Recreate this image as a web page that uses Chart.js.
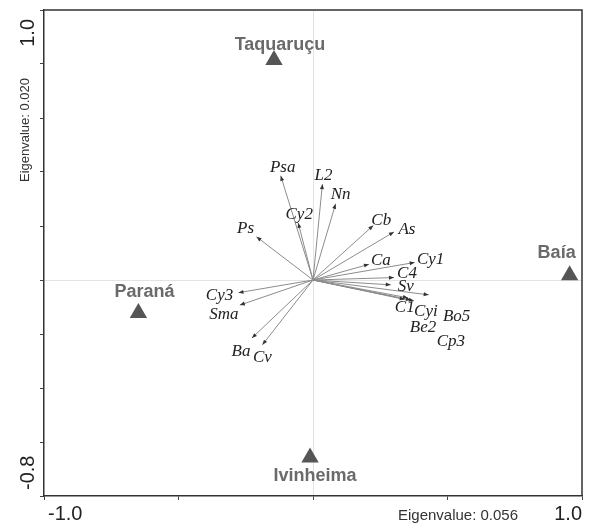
<!DOCTYPE html>
<html>
<head>
<meta charset="utf-8">
<script src="https://cdn.jsdelivr.net/npm/chart.js@4.4.1/dist/chart.umd.min.js"></script>
<style>
  html, body { margin: 0; padding: 0; background: #fff; }
</style>
</head>
<body>
<canvas id="grafico" width="592" height="529"></canvas>
<script>
// Sítios (triângulos)
const sitios = ['Taquaruçu', 'Baía', 'Paraná', 'Ivinheima'];
const sitiosX = [-0.145, 0.954, -0.649, -0.011];
const sitiosY = [0.815, 0.018, -0.122, -0.657];

// Espécies (vetores)
const especies = ['Psa', 'L2', 'Nn', 'Cy2', 'Ps', 'Cb', 'As', 'Ca', 'Cy1', 'C4',
                  'Sv', 'C1', 'Cyi', 'Bo5', 'Be2', 'Cp3', 'Cy3', 'Sma', 'Ba', 'Cv'];
const especiesX = [-0.120, 0.035, 0.084, -0.055, -0.210, 0.224, 0.301, 0.208, 0.378, 0.301,
                   0.289, 0.341, 0.364, 0.430, 0.353, 0.375, -0.277, -0.272, -0.227, -0.188];
const especiesY = [0.386, 0.355, 0.282, 0.211, 0.160, 0.202, 0.178, 0.058, 0.065, 0.009,
                   -0.018, -0.072, -0.074, -0.055, -0.066, -0.077, -0.047, -0.093, -0.215, -0.240];

// Rótulos dos eixos
const xTickLabels = { '-1': '-1.0', '1': '1.0' };
const yTickLabels = { '1': '1.0', '-0.8': '-0.8' };
const tituloX = 'Eigenvalue: 0.056';
const tituloY = 'Eigenvalue: 0.020';

// Deslocamento dos rótulos (px) em relação à ponta do vetor
const deslocEspecies = [[2,-8],[1,-9],[5,-9],[1,-8],[-11,-8],[8,-5],[13,-2],[12,-4],[16,-3],[13,-4],
                        [15,2],[0,8],[15,12],[28,22],[15,30],[37,41],[-19,3],[-16,9],[-11,13],[0,13]];
const deslocSitios = [[6,-15],[-13,-22],[6,-21],[5,19]];

const datasets = [{
  label: 'Sítios',
  data: sitios.map((s, i) => ({ x: sitiosX[i], y: sitiosY[i] })),
  pointStyle: 'triangle',
  radius: 10,
  backgroundColor: '#555',
  borderColor: '#555',
  borderWidth: 0,
  order: 0
}];

especies.forEach((e, i) => {
  datasets.push({
    label: e,
    data: [{ x: 0, y: 0 }, { x: especiesX[i], y: especiesY[i] }],
    showLine: true,
    borderColor: '#8c8c8c',
    borderWidth: 1,
    pointRadius: 0,
    order: 1
  });
});

const corZero = ctx => (ctx.tick && Math.abs(ctx.tick.value) < 1e-9) ? '#e3e3e3' : 'rgba(0,0,0,0)';

const desenhoExtra = {
  id: 'desenhoExtra',
  afterDatasetsDraw(chart) {
    const { ctx, chartArea: a, scales: { x, y } } = chart;
    const x0 = x.getPixelForValue(0), y0 = y.getPixelForValue(0);
    ctx.save();

    // moldura superior e direita
    ctx.strokeStyle = '#333';
    ctx.lineWidth = 1.5;
    ctx.beginPath();
    ctx.moveTo(a.left, a.top);
    ctx.lineTo(a.right, a.top);
    ctx.lineTo(a.right, a.bottom);
    ctx.stroke();

    // pontas das setas
    ctx.fillStyle = '#333';
    especies.forEach((e, i) => {
      const px = x.getPixelForValue(especiesX[i]);
      const py = y.getPixelForValue(especiesY[i]);
      const ang = Math.atan2(py - y0, px - x0);
      ctx.save();
      ctx.translate(px, py);
      ctx.rotate(ang);
      ctx.beginPath();
      ctx.moveTo(0, 0);
      ctx.lineTo(-5, -2);
      ctx.lineTo(-5, 2);
      ctx.closePath();
      ctx.fill();
      ctx.restore();
    });

    // rótulos das espécies
    ctx.font = 'italic 17px "Liberation Serif", "Times New Roman", serif';
    ctx.fillStyle = '#222';
    ctx.textAlign = 'center';
    ctx.textBaseline = 'middle';
    especies.forEach((e, i) => {
      const px = x.getPixelForValue(especiesX[i]) + deslocEspecies[i][0];
      const py = y.getPixelForValue(especiesY[i]) + deslocEspecies[i][1];
      ctx.fillText(e, px, py);
    });

    // rótulos dos sítios
    ctx.font = 'bold 18px "Liberation Sans", Arial, sans-serif';
    ctx.fillStyle = '#6a6a6a';
    sitios.forEach((s, i) => {
      const px = x.getPixelForValue(sitiosX[i]) + deslocSitios[i][0];
      const py = y.getPixelForValue(sitiosY[i]) + deslocSitios[i][1];
      ctx.fillText(s, px, py);
    });

    // rótulos dos ticks do eixo X
    ctx.font = '20px "Liberation Sans", Arial, sans-serif';
    ctx.fillStyle = '#222';
    Object.keys(xTickLabels).forEach(v => {
      const px = x.getPixelForValue(Number(v));
      ctx.textAlign = Number(v) < 0 ? 'left' : 'right';
      ctx.fillText(xTickLabels[v], Number(v) < 0 ? px + 4 : px, a.bottom + 18);
    });

    // rótulos dos ticks do eixo Y (girados)
    Object.keys(yTickLabels).forEach(v => {
      const py = y.getPixelForValue(Number(v));
      ctx.save();
      ctx.translate(28, Number(v) > 0 ? py + 9 : py - 6);
      ctx.rotate(-Math.PI / 2);
      ctx.textAlign = Number(v) > 0 ? 'right' : 'left';
      ctx.fillText(yTickLabels[v], 0, 0);
      ctx.restore();
    });

    // títulos
    ctx.font = '15px "Liberation Sans", Arial, sans-serif';
    ctx.fillStyle = '#333';
    ctx.textAlign = 'center';
    ctx.fillText(tituloX, 458, a.bottom + 20);
    ctx.save();
    ctx.font = '13px "Liberation Sans", Arial, sans-serif';
    ctx.translate(25, 130);
    ctx.rotate(-Math.PI / 2);
    ctx.fillText(tituloY, 0, 0);
    ctx.restore();

    ctx.restore();
  }
};

new Chart(document.getElementById('grafico'), {
  type: 'scatter',
  data: { datasets },
  options: {
    responsive: false,
    animation: false,
    layout: { padding: { top: 8, right: 9, left: 0, bottom: 0 } },
    plugins: { legend: { display: false }, tooltip: { enabled: false } },
    scales: {
      x: {
        min: -1, max: 1,
        ticks: { display: false, stepSize: 0.5 },
        grid: { color: corZero, tickColor: '#444', tickLength: 4, lineWidth: 1 },
        border: { color: '#333', width: 1.5 },
        afterFit: s => { s.height = 33; }
      },
      y: {
        min: -0.8, max: 1,
        ticks: { display: false, stepSize: 0.2 },
        grid: { color: corZero, tickColor: '#444', tickLength: 4, lineWidth: 1 },
        border: { color: '#333', width: 1.5 },
        afterFit: s => { s.width = 44; }
      }
    }
  },
  plugins: [desenhoExtra]
});
</script>
</body>
</html>
